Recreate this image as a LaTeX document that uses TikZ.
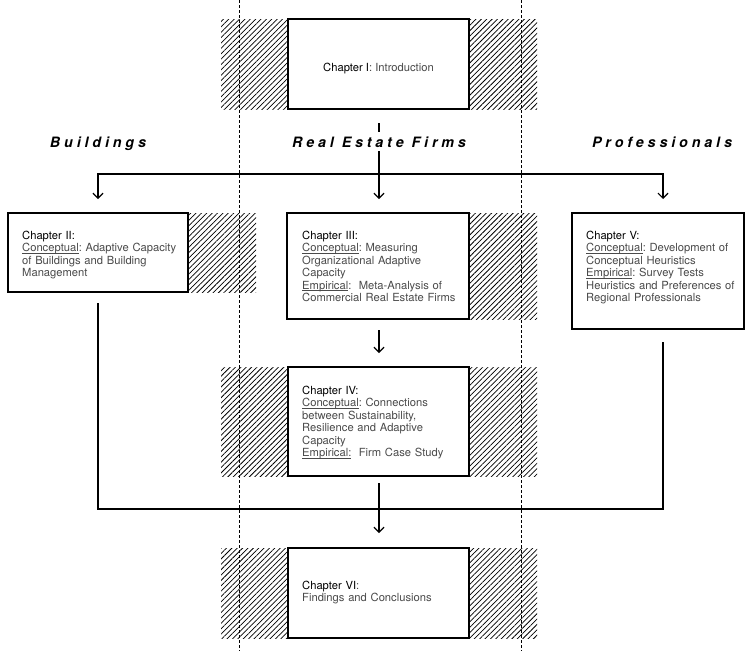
\documentclass[tikz,border=0pt]{standalone}
\usepackage{fontspec}
\setmainfont{TeX Gyre Heros}
\usetikzlibrary{patterns.meta,arrows.meta,calc}
\definecolor{bodygray}{HTML}{4A4A4A}
\newcommand{\chap}[1]{\textcolor{black}{#1}}
\newcommand{\ul}[1]{\underline{\smash{#1}}}
\begin{document}
\frenchspacing
\begin{tikzpicture}[x=1pt,y=-1pt,
  box/.style={draw=black, line width=1.3pt, fill=white, anchor=north west, inner sep=0pt, outer sep=0pt},
  hatch/.style={pattern={Lines[angle=45,distance=3.8pt,line width=0.75pt]}, pattern color=black},
  sepline/.style={dash pattern=on 3pt off 2pt, line width=0.9pt},
  conn/.style={line width=1.2pt},
  tip/.style={-{Straight Barb[length=5pt,width=10pt]}},
  txt/.style={anchor=base west, text width=200pt, align=left, inner sep=0pt, font=\fontsize{11.2}{12.5}\selectfont\frenchspacing, text=bodygray},
  head/.style={font=\fontsize{14.3}{16}\selectfont\bfseries\itshape\addfontfeature{LetterSpace=27}, fill=white, inner xsep=3pt, inner ysep=4pt, anchor=base}
]
\useasboundingbox (0,0) rectangle (745,651);
\fill[white] (0,0) rectangle (745,651);

% hatched bands
\fill[hatch] (221,19) rectangle (537,109);
\fill[hatch] (188,213) rectangle (256,292);
\fill[hatch] (469,213) rectangle (537,319);
\fill[hatch] (221,367) rectangle (537,476);
\fill[hatch] (221,548) rectangle (537,638);

% column separators
\draw[sepline] (239,0) -- (239,651);
\draw[sepline] (521,0) -- (521,651);

% boxes
\node[box, minimum width=181pt, minimum height=90pt] (c1) at (288,19) {};
\node[box, minimum width=180pt, minimum height=79pt] (c2) at (8,213) {};
\node[box, minimum width=182pt, minimum height=106pt] (c3) at (287,213) {};
\node[box, minimum width=172pt, minimum height=116pt] (c5) at (572,213) {};
\node[box, minimum width=181pt, minimum height=109pt] (c4) at (288,367) {};
\node[box, minimum width=181pt, minimum height=90pt] (c6) at (288,548) {};

% texts
\node[anchor=base, inner sep=0pt, font=\fontsize{11.2}{12.5}\selectfont\frenchspacing, text=bodygray] (t1) at (c1.center |- 0,71) {\chap{Chapter I}: Introduction};
\node[txt] (t2) at (22,239) {\chap{Chapter II:}\\ \ul{Conceptual}: Adaptive Capacity\\ of Buildings and Building\\ Management};
\node[txt] (t3) at (302,239) {\chap{Chapter III:}\\ \ul{Conceptual}: Measuring\\ Organizational Adaptive\\ Capacity\\ \ul{Empirical}:\ \ Meta-Analysis of\\ Commercial Real Estate Firms};
\node[txt] (t5) at (586,239) {\chap{Chapter V:}\\ \ul{Conceptual}: Development of\\ Conceptual Heuristics\\ \ul{Empirical}: Survey Tests\\ Heuristics and Preferences of\\ Regional Professionals};
\node[txt] (t4) at (302,394) {\chap{Chapter IV:}\\ \ul{Conceptual}: Connections\\ between Sustainability,\\ Resilience and Adaptive\\ Capacity\\ \ul{Empirical:}\ \ Firm Case Study};
\node[txt] (t6) at (302,589) {\chap{Chapter VI}:\\ Findings and Conclusions};

% connector points
\coordinate (jl) at (98,174);
\coordinate (jr) at (663,174);
\coordinate (a2) at (98,199);
\coordinate (a3) at (379,199);
\coordinate (a5) at (663,199);
\coordinate (bl) at (98,509);
\coordinate (br) at (663,509);

% connectors
\draw[conn, tip] ($(c1.south)+(0.5,14)$) -- (a3);
\draw[conn, {Straight Barb[length=5pt,width=10pt]}-{Straight Barb[length=5pt,width=10pt]}] (a2) -- (jl) -- (jr) -- (a5);
\draw[conn, tip] ($(c3.south)+(1,11)$) -- ($(c4.north)+(0.5,-14)$);
\draw[conn] ($(c2.south)+(0,11)$) -- (bl) -- (br) -- ($(c5.south)+(5,13)$);
\draw[conn, tip] ($(c4.south)+(0.5,7)$) -- ($(c6.north)+(0.5,-15)$);

% column headings
\node[head] (h1) at (98,147) {Buildings};
\node[head] (h2) at (379,147) {Real Estate Firms};
\node[head] (h3) at (662,147) {Professionals};
\end{tikzpicture}
\end{document}
